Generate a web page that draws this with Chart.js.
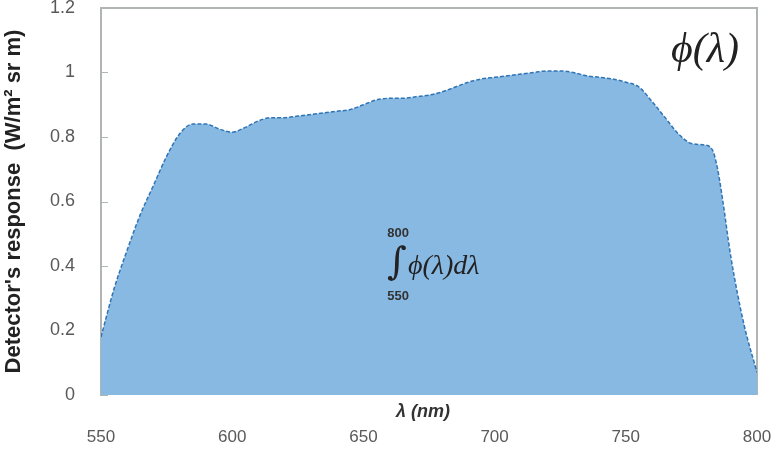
<!DOCTYPE html>
<html>
<head>
<meta charset="utf-8">
<script src="https://cdn.jsdelivr.net/npm/chart.js@4/dist/chart.umd.min.js"></script>
<style>
  body { margin: 0; background: #fff; }
</style>
</head>
<body>
<canvas id="chart" width="773" height="456"></canvas>
<script>
const wavelengths = [550, 555, 560, 565, 570, 575, 580, 585, 590, 595, 600, 605, 610, 615, 620, 625, 630, 635, 640, 645, 650, 655, 660, 665, 670, 675, 680, 685, 690, 695, 700, 705, 710, 715, 720, 725, 730, 735, 740, 745, 750, 755, 760, 765, 770, 775, 780, 783, 785, 787, 790, 795, 800];
const response = [0.18, 0.33, 0.45, 0.56, 0.65, 0.74, 0.81, 0.84, 0.84, 0.825, 0.815, 0.83, 0.85, 0.86, 0.86, 0.865, 0.87, 0.875, 0.88, 0.885, 0.9, 0.915, 0.92, 0.92, 0.925, 0.93, 0.94, 0.955, 0.97, 0.98, 0.985, 0.99, 0.995, 1.0, 1.005, 1.005, 1.0, 0.99, 0.985, 0.98, 0.97, 0.955, 0.91, 0.86, 0.81, 0.78, 0.775, 0.76, 0.7, 0.6, 0.43, 0.22, 0.07];
const xTicks = [550, 600, 650, 700, 750, 800];
const yTicks = [0, 0.2, 0.4, 0.6, 0.8, 1, 1.2];

const points = wavelengths.map((w, i) => ({ x: w, y: response[i] }));

const extras = {
  id: 'extras',
  beforeDatasetsDraw(chart) {
    const { ctx, chartArea: a, scales } = chart;
    ctx.save();
    ctx.strokeStyle = '#b0b5b3';
    ctx.lineWidth = 2;
    ctx.beginPath();
    ctx.moveTo(a.left, a.top);
    ctx.lineTo(a.right, a.top);
    ctx.lineTo(a.right, a.bottom);
    ctx.stroke();
    // inward tick marks on the y axis
    ctx.lineWidth = 1;
    yTicks.forEach(v => {
      const y = Math.round(scales.y.getPixelForValue(v)) + 0.5;
      ctx.beginPath();
      ctx.moveTo(a.left, y);
      ctx.lineTo(a.left + 7, y);
      ctx.stroke();
    });
    ctx.restore();
  },
  afterDatasetsDraw(chart) {
    const { ctx, chartArea: a, scales } = chart;
    const px = (x) => scales.x.getPixelForValue(x);
    const py = (y) => scales.y.getPixelForValue(y);
    ctx.save();
    ctx.textAlign = 'center';
    ctx.textBaseline = 'middle';
    // x axis title, sits between the plot and the tick labels
    ctx.font = 'italic bold 18px "Liberation Sans", Arial, sans-serif';
    ctx.fillStyle = '#333';
    ctx.fillText('λ (nm)', (a.left + a.right) / 2 - 6, a.bottom + 17);
    // phi label top right
    ctx.fillStyle = '#222';
    ctx.font = 'italic 42px "Liberation Serif", "Times New Roman", serif';
    ctx.fillText('ϕ(λ)', px(780.2), py(1.066));
    // integral annotation
    ctx.font = 'bold 13px "Liberation Sans", Arial, sans-serif';
    ctx.fillStyle = '#333';
    ctx.fillText('800', px(663.2), py(0.5));
    ctx.fillText('550', px(663.2), py(0.305));
    ctx.font = '38px "DejaVu Serif", serif';
    ctx.fillStyle = '#222';
    ctx.fillText('∫', px(662.8), py(0.405));
    ctx.font = 'italic 28px "Liberation Serif", "Times New Roman", serif';
    ctx.textAlign = 'left';
    ctx.fillText('ϕ(λ)dλ', px(667), py(0.397));
    ctx.restore();
  }
};

new Chart(document.getElementById('chart'), {
  type: 'line',
  data: {
    datasets: [{
      data: points,
      fill: 'origin',
      backgroundColor: '#88b9e2',
      borderColor: '#2f74b5',
      borderWidth: 1.5,
      borderDash: [4, 2],
      pointRadius: 0,
      cubicInterpolationMode: 'monotone'
    }]
  },
  options: {
    responsive: false,
    animation: false,
    layout: { padding: { top: 8, right: 16, left: 0, bottom: 0 } },
    plugins: { legend: { display: false }, tooltip: { enabled: false } },
    scales: {
      x: {
        type: 'linear',
        min: 550,
        max: 800,
        afterBuildTicks: (s) => { s.ticks = xTicks.map(v => ({ value: v })); },
        afterFit: (s) => { s.height = 61; s.paddingLeft = 0; s.paddingRight = 0; },
        grid: { display: false },
        border: { display: false },
        ticks: {
          padding: 24,
          color: '#595959',
          font: { family: '"Liberation Sans", Arial, sans-serif', size: 17 }
        }
      },
      y: {
        min: 0,
        max: 1.2,
        afterBuildTicks: (s) => { s.ticks = yTicks.map(v => ({ value: v })); },
        afterFit: (s) => { s.width = 101; s.paddingTop = 0; s.paddingBottom = 0; },
        grid: { display: false, drawTicks: false },
        border: { display: true, color: '#b0b5b3', width: 2 },
        ticks: {
          padding: 26,
          color: '#595959',
          font: { family: '"Liberation Sans", Arial, sans-serif', size: 18 },
          callback: (v) => String(Math.round(v * 10) / 10)
        },
        title: {
          display: true,
          text: "Detector's response  (W/m² sr m)",
          color: '#222',
          font: { family: '"Liberation Sans", Arial, sans-serif', size: 22, weight: 'bold' },
          padding: { top: 1, bottom: 0 }
        }
      }
    }
  },
  plugins: [extras]
});
</script>
</body>
</html>
